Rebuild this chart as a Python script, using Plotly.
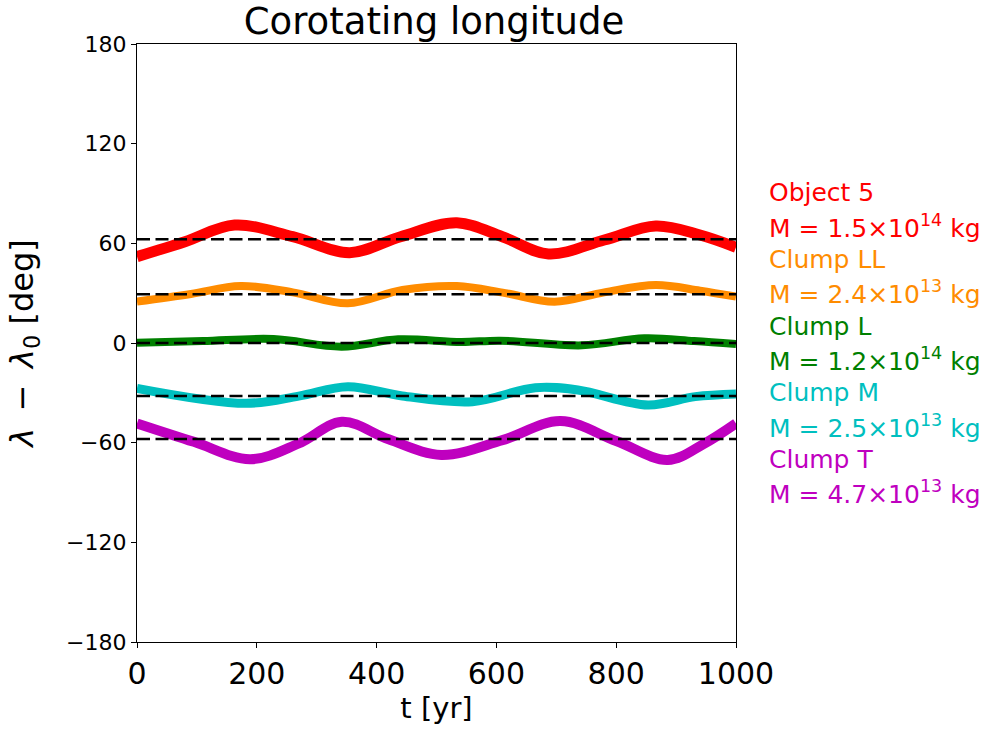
import plotly.graph_objects as go

# ----------------------------------------------------------------------
# Data
# ----------------------------------------------------------------------
t_obj5 = [0, 80, 163, 260, 355, 440, 534, 610, 687, 780, 866, 940, 1000]
lon_obj5 = [52, 61, 71, 64, 54.4, 64, 72.4, 64, 53.6, 62, 70.4, 65, 57.6]

t_ll = [0, 90, 173, 260, 352, 443, 534, 615, 697, 780, 866, 940, 1000]
lon_ll = [24.9, 29.5, 34.3, 30.5, 23.9, 31.9, 34.3, 30.0, 24.9, 30.5, 34.9, 31.5, 27.9]

t_l = [0, 110, 228, 342, 436, 541, 606, 743, 847, 930, 1000]
lon_l = [0.2, 1.2, 2.4, -2.2, 2.2, 0.6, 1.4, -1.4, 2.8, 1.2, -0.6]

t_m = [0, 182, 270, 352, 443, 560, 665, 736, 853, 932, 1000]
lon_m = [-27.3, -36.3, -32.0, -26.3, -31.9, -35.3, -26.9, -28.3, -37.3, -32.3, -30.7]

t_t = [0, 95, 189, 270, 342, 420, 508, 610, 707, 800, 886, 945, 1000]
lon_t = [-48.4, -59.5, -70, -60.5, -47.4, -58, -67.4, -58.5, -47, -59, -70.4, -61, -48.4]

names = ["Object 5", "Clump LL", "Clump L", "Clump M", "Clump T"]
masses = ["1.5", "2.4", "1.2", "2.5", "4.7"]
exponents = ["14", "13", "14", "13", "13"]
mean_lon = [62.4, 29.3, 0.0, -31.9, -57.8]

COLORS = ["#ff0000", "#ff8c00", "#008000", "#00bfbf", "#bf00bf"]
WIDTHS = [11, 8, 8, 9, 10]
FONT = "DejaVu Sans"

series = [(t_obj5, lon_obj5), (t_ll, lon_ll), (t_l, lon_l), (t_m, lon_m), (t_t, lon_t)]

fig = go.Figure()
for (t, lon), name, col, w in zip(series, names, COLORS, WIDTHS):
    fig.add_trace(go.Scatter(
        x=t, y=lon, mode="lines", name=name,
        line=dict(color=col, width=w, shape="spline", smoothing=1.0),
    ))

# mean longitudes, dashed, drawn on top
for m in mean_lon:
    fig.add_trace(go.Scatter(
        x=[0, 1000], y=[m, m], mode="lines", showlegend=False,
        line=dict(color="black", width=2.5, dash="13px,5.5px"),
    ))

# coloured text "legend" to the right of the axes
plot_top, plot_bot = 44, 642
for i, (name, mass, ex, col) in enumerate(zip(names, masses, exponents, COLORS)):
    for j, txt in enumerate([name, f"M = {mass}×10<sup>{ex}</sup> kg"]):
        py = 193 + 33.3 * (2 * i + j)
        fig.add_annotation(
            xref="paper", yref="paper",
            x=(767 - 137) / 599, y=(plot_bot - py) / (plot_bot - plot_top),
            xanchor="left", yanchor="middle", showarrow=False,
            text=txt, font=dict(family=FONT, size=25, color=col),
        )

fig.update_layout(
    width=985, height=730,
    paper_bgcolor="white", plot_bgcolor="white",
    margin=dict(l=137, r=249, t=44, b=88),
    showlegend=False,
    font=dict(family=FONT, color="black"),
    title=dict(text="Corotating longitude", x=434 / 985, xanchor="center",
               y=1 - 21 / 730, yanchor="middle",
               font=dict(family=FONT, size=37, color="black")),
)
fig.update_xaxes(
    range=[0, 1000], tickvals=[0, 200, 400, 600, 800, 1000],
    showgrid=False, zeroline=False,
    showline=True, linecolor="black", linewidth=1.2, mirror=True,
    ticks="outside", ticklen=5, tickcolor="black",
    tickfont=dict(family=FONT, size=30),
    title=dict(text="t [yr]", font=dict(family=FONT, size=29), standoff=4),
)
fig.update_yaxes(
    range=[-180, 180], tickvals=[-180, -120, -60, 0, 60, 120, 180],
    ticktext=["−180", "−120", "−60", "0", "60", "120", "180"],
    showgrid=False, zeroline=False,
    showline=True, linecolor="black", linewidth=1.2, mirror=True,
    ticks="outside", ticklen=5, tickcolor="black",
    tickfont=dict(family=FONT, size=22),
    title=dict(text="<i>λ</i>\u2009 − \u2009<i>λ</i><sub>0</sub> [deg]",
               font=dict(family=FONT, size=32), standoff=22),
)

# drop the browser's default body margin so the figure sits at (0, 0)
fig.write_html("out.html", config={"displayModeBar": False},
               post_script="document.body.style.margin = '0';")
